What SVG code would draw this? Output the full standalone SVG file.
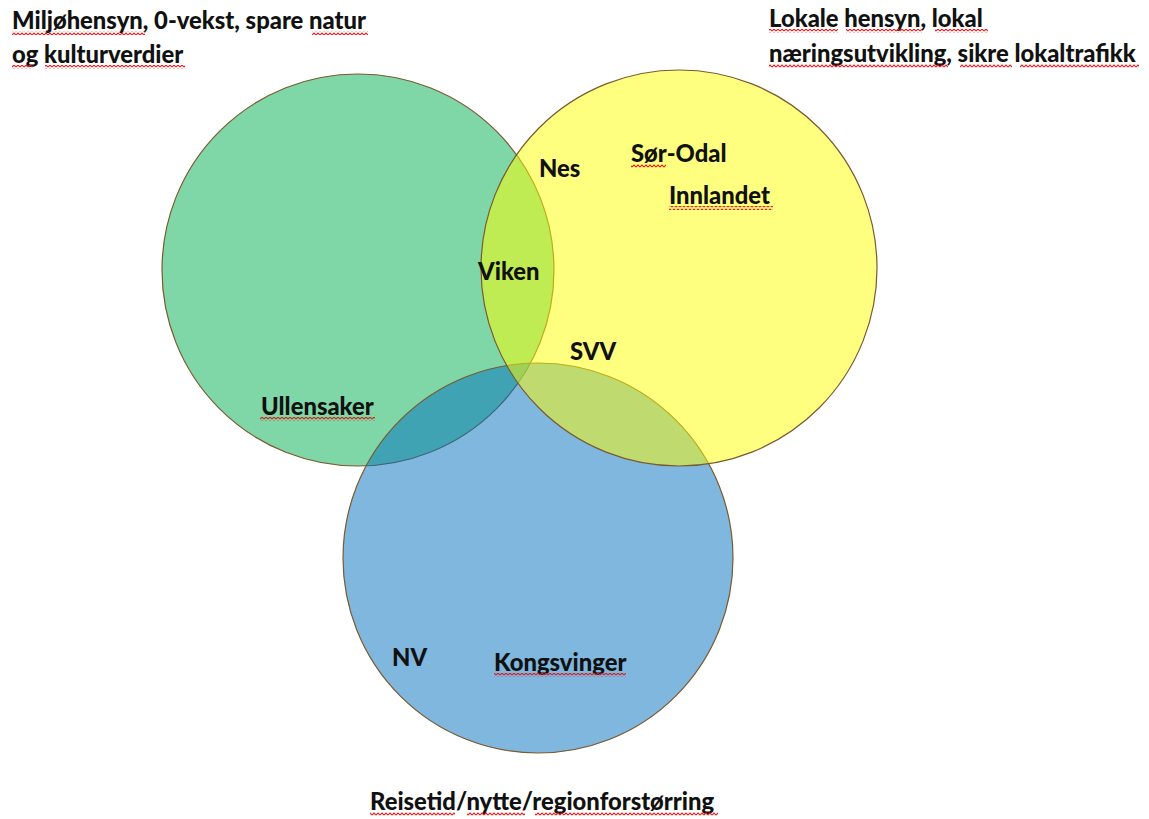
<svg xmlns="http://www.w3.org/2000/svg" width="1149" height="819" viewBox="0 0 1149 819">
<style>
.c{stroke:#7a5a30;stroke-width:1.2}
.t{font-family:Lato,"Liberation Sans",sans-serif;font-weight:900;font-size:23.8px;fill:#111}
.w{fill:url(#wave)}
</style>
<defs>
<pattern id="wave" width="4" height="4" patternUnits="userSpaceOnUse">
<path d="M0,3 L2,1 L4,3" fill="none" stroke="#e02020" stroke-width="1.1"/>
</pattern>
</defs>
<rect width="1149" height="819" fill="#fff"/>
<g id="circle-green"><circle class="c" cx="358" cy="270" r="196" fill="#00b050" fill-opacity="0.5"/></g>
<g id="circle-blue"><circle class="c" cx="538" cy="558" r="195" fill="#0070c0" fill-opacity="0.5"/></g>
<g id="circle-yellow"><circle class="c" cx="679" cy="268" r="198" fill="#ffff00" fill-opacity="0.5"/></g>
<g id="connectors"></g>
<g id="label-top-left">
<text class="t" x="12" y="29">Miljøhensyn, 0-vekst, spare natur</text>
<text class="t" x="12" y="63">og kulturverdier</text>
<rect class="w" x="12" y="31" width="133" height="4"/><rect class="w" x="312" y="31" width="56" height="4"/>
<rect class="w" x="12" y="65" width="21" height="4"/><rect class="w" x="45" y="65" width="140" height="4"/>
</g>
<g id="label-top-right">
<text class="t" x="769" y="27">Lokale hensyn, lokal</text>
<text class="t" x="769" y="62">næringsutvikling, sikre lokaltrafikk</text>
<rect class="w" x="769" y="29" width="69" height="4"/><rect class="w" x="846" y="29" width="76" height="4"/><rect class="w" x="935" y="29" width="53" height="4"/>
<rect class="w" x="769" y="64" width="179" height="4"/><rect class="w" x="960" y="64" width="52" height="4"/><rect class="w" x="1020" y="64" width="119" height="4"/>
</g>
<g id="label-nes"><text class="t" x="539" y="177">Nes</text></g>
<g id="label-sor-odal"><text class="t" x="631" y="162">Sør-Odal</text><rect class="w" x="631" y="164" width="35" height="4"/></g>
<g id="label-innlandet"><text class="t" x="669" y="204">Innlandet</text><rect class="w" x="669" y="206" width="104" height="4"/></g>
<g id="label-viken"><text class="t" x="478" y="280">Viken</text></g>
<g id="label-svv"><text class="t" x="570" y="360">SVV</text></g>
<g id="label-ullensaker"><text class="t" x="261" y="415">Ullensaker</text><rect class="w" x="260" y="417" width="115" height="4"/></g>
<g id="label-nv"><text class="t" x="392" y="666">NV</text></g>
<g id="label-kongsvinger"><text class="t" x="494" y="671">Kongsvinger</text><rect class="w" x="494" y="673" width="132" height="4"/></g>
<g id="label-bottom">
<text class="t" x="370" y="810">Reisetid/nytte/regionforstørring</text>
<rect class="w" x="370" y="812" width="85" height="4"/><rect class="w" x="467" y="812" width="58" height="4"/><rect class="w" x="535" y="812" width="183" height="4"/>
</g>
</svg>
